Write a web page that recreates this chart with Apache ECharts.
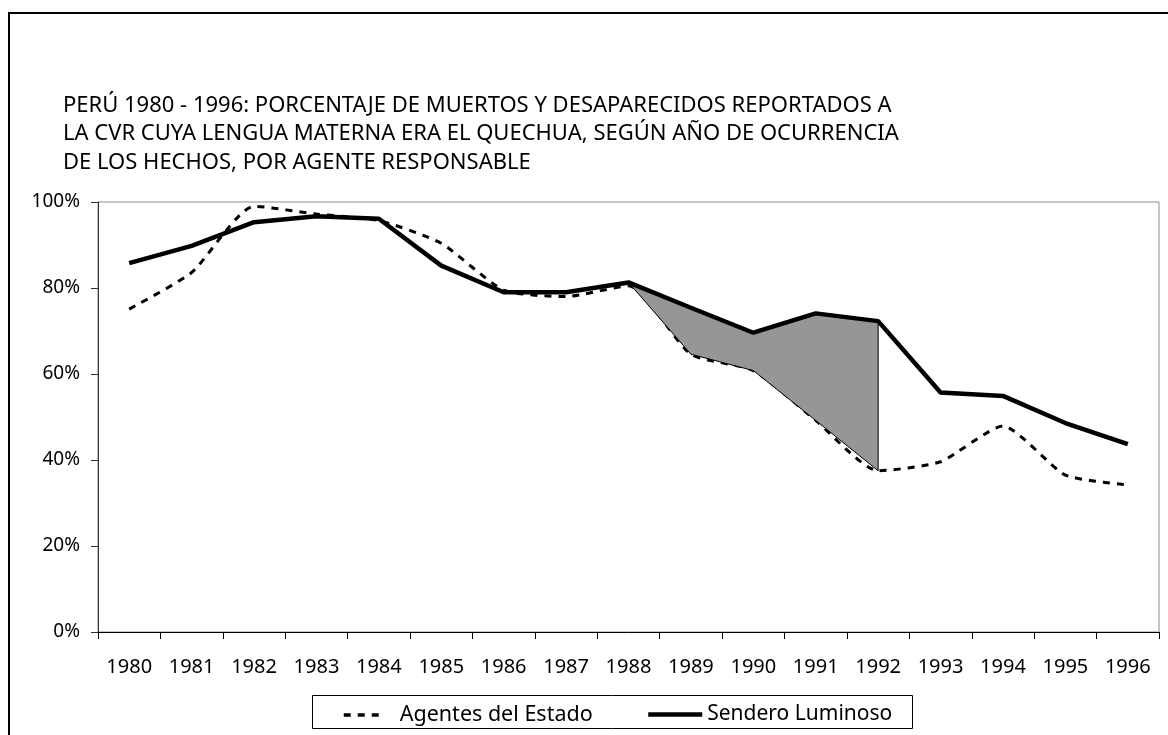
<!DOCTYPE html>
<html>
<head>
<meta charset="utf-8">
<script src="https://cdn.jsdelivr.net/npm/echarts@6/dist/echarts.min.js"></script>
<style>
  html, body { margin: 0; padding: 0; background: #fff; }
  #chart { width: 1168px; height: 735px; }
</style>
</head>
<body>
<div id="chart"></div>
<script>
// años de ocurrencia
const years = ['1980', '1981', '1982', '1983', '1984', '1985', '1986', '1987', '1988',
  '1989', '1990', '1991', '1992', '1993', '1994', '1995', '1996']

// % quechuahablantes por agente responsable
const agentes = [75.1, 83.6, 99, 97.2, 95.7, 90.4, 79.5, 78, 80.5, 64.6, 60.8, 49.2, 37.5, 39.6, 47.9, 36.5, 34.2]
const sendero = [85.8, 89.8, 95.3, 96.7, 96.1, 85.2, 79, 79, 81.3, 75.4, 69.6, 74.1, 72.3, 55.7, 54.9, 48.6, 43.7]

const yTicks = [0, 20, 40, 60, 80, 100]

// tramo sombreado entre las dos series
const shadeFrom = 8
const shadeTo = 12

const FONT = 'Noto Sans'

const chart = echarts.init(document.getElementById('chart'))

const legendItem = {
  top: 704,
  padding: 0,
  itemHeight: 14,
  itemStyle: { color: 'rgba(0,0,0,0)', borderWidth: 0 }
}

const option = {
  animation: false,
  textStyle: { fontFamily: FONT, color: '#000' },
  title: {
    text: 'PERÚ 1980 - 1996: PORCENTAJE DE MUERTOS Y DESAPARECIDOS REPORTADOS A\nLA CVR CUYA LENGUA MATERNA ERA EL QUECHUA, SEGÚN AÑO DE OCURRENCIA\nDE LOS HECHOS, POR AGENTE RESPONSABLE',
    left: 58,
    top: 86,
    textStyle: {
      fontFamily: FONT,
      fontSize: 22,
      fontWeight: 'normal',
      lineHeight: 28.5,
      color: '#000'
    }
  },
  graphic: [
    {
      type: 'rect',
      shape: { x: 9, y: 13, width: 1200, height: 760 },
      style: { fill: 'none', stroke: '#000', lineWidth: 2 },
      silent: true
    },
    {
      type: 'rect',
      shape: { x: 312.5, y: 695.5, width: 600, height: 33 },
      style: { fill: '#fff', stroke: '#000', lineWidth: 1 },
      silent: true,
      z: -1
    }
  ],
  legend: [
    {
      ...legendItem,
      data: ['Agentes del Estado'],
      left: 342,
      itemWidth: 40,
      lineStyle: { width: 3.5, type: [7, 7], color: '#000' },
      textStyle: { fontFamily: FONT, fontSize: 21.5, color: '#000', padding: [0, 0, 0, 11] }
    },
    {
      ...legendItem,
      data: ['Sendero Luminoso'],
      left: 646,
      itemWidth: 54,
      lineStyle: { width: 4.5, color: '#000' },
      textStyle: { fontFamily: FONT, fontSize: 21, color: '#000' }
    }
  ],
  grid: {
    left: 98,
    right: 9,
    top: 202,
    bottom: 103,
    show: true,
    borderColor: '#8c8c8c',
    borderWidth: 1
  },
  xAxis: {
    type: 'category',
    data: years,
    boundaryGap: true,
    axisLine: { lineStyle: { color: '#000', width: 1 } },
    axisTick: { show: true, length: 7, lineStyle: { color: '#000' } },
    axisLabel: { fontSize: 20, margin: 25, color: '#000', interval: 0 },
    splitLine: { show: false }
  },
  yAxis: {
    type: 'value',
    min: yTicks[0],
    max: yTicks[yTicks.length - 1],
    interval: 20,
    axisLine: { show: true, lineStyle: { color: '#333', width: 1 } },
    axisTick: { show: true, length: 7, lineStyle: { color: '#333' } },
    axisLabel: { fontSize: 19, margin: 18, color: '#000', formatter: '{value}%' },
    splitLine: { show: false }
  },
  series: [
    {
      name: 'Agentes del Estado',
      type: 'line',
      data: agentes,
      smooth: 0.2,
      showSymbol: false,
      symbol: 'none',
      lineStyle: { color: '#000', width: 3, type: [7, 7] },
      itemStyle: { color: '#000' },
      z: 2
    },
    {
      name: 'sombra',
      type: 'custom',
      data: [[shadeFrom, sendero[shadeFrom]]],
      z: 3,
      renderItem: (params, api) => {
        const pts = []
        for (let i = shadeFrom; i <= shadeTo; i++) pts.push(api.coord([i, sendero[i]]))
        for (let i = shadeTo; i > shadeFrom; i--) pts.push(api.coord([i, agentes[i]]))
        return {
          type: 'polygon',
          shape: { points: pts },
          style: { fill: '#969696', stroke: '#000', lineWidth: 1 }
        }
      }
    },
    {
      name: 'Sendero Luminoso',
      type: 'line',
      data: sendero,
      showSymbol: false,
      symbol: 'none',
      lineStyle: { color: '#000', width: 4.5 },
      itemStyle: { color: '#000' },
      z: 4
    }
  ]
}

chart.setOption(option)
</script>
</body>
</html>
